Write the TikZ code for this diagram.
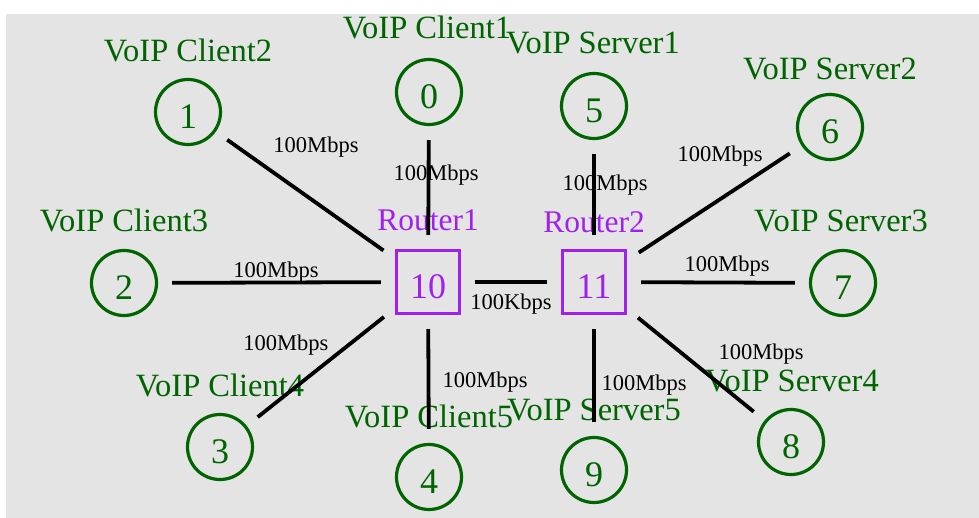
\documentclass[tikz,border=0pt]{standalone}
\usepackage{fontspec}
\setmainfont{Liberation Serif}
\definecolor{nodegreen}{HTML}{006400}
\definecolor{routerpurple}{HTML}{A020F0}
\definecolor{bggray}{HTML}{E4E4E4}
\begin{document}
\begin{tikzpicture}[x=1pt,y=-1pt,
  host/.style={circle,draw=nodegreen,line width=3.2pt,text=nodegreen,minimum size=65pt,inner sep=0pt,
    font=\fontsize{36}{36}\selectfont,text height=33pt,text depth=0pt},
  router/.style={rectangle,draw=routerpurple,line width=3.2pt,text=routerpurple,minimum size=63pt,inner sep=0pt,
    font=\fontsize{36}{36}\selectfont,text height=33pt,text depth=0pt},
  hostlabel/.style={text=nodegreen,font=\fontsize{32.5}{32.5}\selectfont,anchor=base,inner sep=0pt},
  routerlabel/.style={text=routerpurple,font=\fontsize{31.5}{31.5}\selectfont,anchor=base,inner sep=0pt},
  linklabel/.style={text=black,font=\fontsize{22.5}{22.5}\selectfont,anchor=base,inner sep=0pt},
  link/.style={draw=black,line width=3.8pt,shorten <=14pt,shorten >=14pt}]
\useasboundingbox (0,0) rectangle (979,518);
\fill[bggray] (6,14) rectangle (979,518);

% hosts and routers
\node[host] (n0) at (429,92) {0};
\node[host] (n1) at (188,112) {1};
\node[host] (n2) at (124,283) {2};
\node[host] (n3) at (220,447) {3};
\node[host] (n4) at (429,477) {4};
\node[host] (n5) at (594,106) {5};
\node[host] (n6) at (830,127) {6};
\node[host] (n7) at (843,283) {7};
\node[host] (n8) at (791,442) {8};
\node[host] (n9) at (594,470) {9};
\node[router] (n10) at (428,282) {10};
\node[router] (n11) at (594,282) {11};

% node labels
\node[hostlabel] (l0) at (427,39) {VoIP Client1};
\node[hostlabel] (l5) at (593,54) {VoIP Server1};
\node[hostlabel] (l1) at (188,62) {VoIP Client2};
\node[hostlabel] (l6) at (830,80) {VoIP Server2};
\node[hostlabel] (l2) at (124,232) {VoIP Client3};
\node[hostlabel] (l7) at (841,232) {VoIP Server3};
\node[hostlabel] (l3) at (220,396) {VoIP Client4};
\node[hostlabel] (l8) at (792,391) {VoIP Server4};
\node[hostlabel] (l4) at (429,427) {VoIP Client5};
\node[hostlabel] (l9) at (594,420) {VoIP Server5};
\node[routerlabel] (l10) at (428,231) {Router1};
\node[routerlabel] (l11) at (594,233) {Router2};

% link labels
\node[linklabel] (e1) at (316,153) {100Mbps};
\node[linklabel] (e0) at (436,181) {100Mbps};
\node[linklabel] (e5) at (605,191) {100Mbps};
\node[linklabel] (e6) at (720,162) {100Mbps};
\node[linklabel] (e2) at (276,278) {100Mbps};
\node[linklabel] (e7) at (727,272) {100Mbps};
\node[linklabel] (e3) at (286,350) {100Mbps};
\node[linklabel] (e8) at (761,359) {100Mbps};
\node[linklabel] (e4) at (485,387) {100Mbps};
\node[linklabel] (e9) at (644,390) {100Mbps};
\node[linklabel] (e10) at (511,309) {100Kbps};

% links
\draw[link] (n0) -- (n10);
\draw[link] (n1) -- (n10);
\draw[link] (n2) -- (n10);
\draw[link] (n3) -- (n10);
\draw[link] (n4) -- (n10);
\draw[link] (n5) -- (n11);
\draw[link] (n6) -- (n11);
\draw[link] (n7) -- (n11);
\draw[link] (n8) -- (n11);
\draw[link] (n9) -- (n11);
\draw[link] (n10) -- (n11);
\end{tikzpicture}
\end{document}
